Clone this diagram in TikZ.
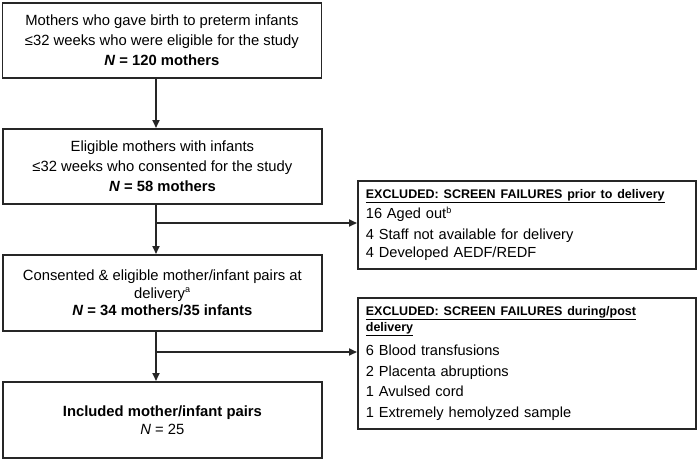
\documentclass[tikz,border=0pt]{standalone}
\usepackage{fontspec}
\setmainfont{Liberation Sans}
\usetikzlibrary{arrows.meta}
\tikzset{
  box/.style={draw=black!85, line width=1.8pt, fill=white, inner sep=0pt, align=center},
  mainbox/.style={box, minimum width=319pt, minimum height=75pt, anchor=north west},
  exbox/.style={box, minimum width=338pt, anchor=north west, align=left, text width=322pt},
  arr/.style={draw=black!85, line width=1.8pt, -{Triangle[length=8pt,width=7pt]}},
  maintxt/.style={font=\fontsize{14.8}{20}\selectfont},
}
\newcommand{\exhead}[1]{{\fontsize{12.5}{16}\selectfont\bfseries\underline{#1}}}
\newcommand{\supmark}[1]{\textsuperscript{\fontsize{9}{9}\selectfont #1}}
\begin{document}
\begin{tikzpicture}[x=1pt,y=-1pt]
\useasboundingbox (0,0) rectangle (697,459);
% main boxes
\node[mainbox, maintxt] (b1) at (1.5,2) {Mothers who gave birth to preterm infants\\ ≤32 weeks who were eligible for the study\\ \textbf{\textit{N} = 120 mothers}};
\node[mainbox, maintxt] (b2) at (2,128) {Eligible mothers with infants\\ ≤32 weeks who consented for the study\\ \textbf{\textit{N} = 58 mothers}};
\node[mainbox, minimum height=76pt, font=\fontsize{14.8}{17.5}\selectfont] (b3) at (2,254) {Consented \& eligible mother/infant pairs at\\ delivery\supmark{a}\\ \textbf{\textit{N} = 34 mothers/35 infants}};
\node[mainbox, minimum height=76pt, font=\fontsize{14.8}{18}\selectfont] (b4) at (2,381) {\textbf{Included mother/infant pairs}\\ \textit{N} = 25};
% exclusion boxes
\node[exbox, minimum height=88pt, font=\fontsize{14.6}{20}\selectfont] (exA) at (357,180) {\exhead{EXCLUDED: SCREEN FAILURES prior to delivery}\\[0pt] 16 Aged out\supmark{b}\\[1pt] 4 Staff not available for delivery\\[-2pt] 4 Developed AEDF/REDF};
\node[exbox, minimum height=131pt, font=\fontsize{14.6}{20.5}\selectfont] (exB) at (357,297) {\exhead{EXCLUDED: SCREEN FAILURES during/post}\\[-4.5pt] \exhead{delivery}\\[4pt] 6 Blood transfusions\\ 2 Placenta abruptions\\ 1 Avulsed cord\\ 1 Extremely hemolyzed sample};
% connectors
\coordinate (sx) at (156,0);
\coordinate (ja) at (156,223);
\coordinate (jb) at (156,352);
\draw[arr] (b1.south -| sx) -- (b2.north -| sx);
\draw[arr] (b2.south -| sx) -- (b3.north -| sx);
\draw[arr] (b3.south -| sx) -- (b4.north -| sx);
\draw[arr] (ja) -- (ja -| exA.west);
\draw[arr] (jb) -- (jb -| exB.west);
\end{tikzpicture}
\end{document}
